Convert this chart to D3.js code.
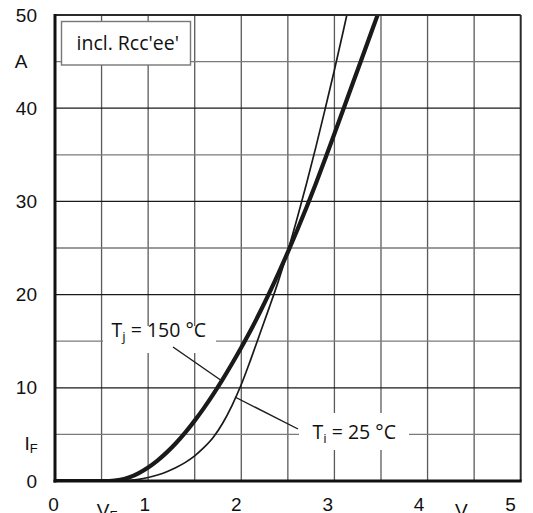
<!DOCTYPE html>
<html>
<head>
<meta charset="utf-8">
<script src="https://cdn.jsdelivr.net/npm/d3@7"></script>
<style>
  html, body { margin: 0; padding: 0; background: #fff; }
  svg { display: block; }
</style>
</head>
<body>
<svg id="chart" width="533" height="513"></svg>
<script>
// Forward characteristic I_F = f(V_F), incl. Rcc'ee'
const xTicks = [0, 1, 2, 3, 4, 5];
const yTicks = [0, 10, 20, 30, 40, 50];
const xGrid = [0.5, 1, 1.5, 2, 2.5, 3, 3.5, 4, 4.5];
const yGrid = [5, 10, 15, 20, 25, 30, 35, 40, 45];

// T_j = 150 °C (thick curve), V_F in V / I_F in A
const v150 = [0, 0.4, 0.58, 0.7, 0.8, 0.9, 1.0, 1.1, 1.2, 1.3, 1.4, 1.5, 1.6, 1.7, 1.8, 1.9, 2.0,
              2.1, 2.2, 2.3, 2.4, 2.5, 2.6, 2.7, 2.8, 2.9, 3.0, 3.1, 3.2, 3.3, 3.4, 3.5];
const i150 = [0, 0, 0, 0.12, 0.40, 0.85, 1.45, 2.19, 3.07, 4.08, 5.22, 6.48, 7.85, 9.33, 10.91, 12.58, 14.33,
              16.15, 18.1, 20.15, 22.3, 24.55, 26.9, 29.35, 31.9, 34.55, 37.25, 40.0, 42.75, 45.5, 48.25, 51.0];

// T_j = 25 °C (thin curve)
const v25 = [0, 0.45, 0.66, 0.7, 0.8, 0.9, 1.0, 1.1, 1.2, 1.3, 1.4, 1.5, 1.6, 1.7, 1.8, 1.9, 2.0,
             2.1, 2.2, 2.3, 2.4, 2.5, 2.6, 2.7, 2.8, 2.9, 3.0, 3.1, 3.2];
const i25 = [0, 0, 0, 0.01, 0.06, 0.18, 0.38, 0.65, 1.0, 1.45, 2.0, 2.7, 3.6, 4.7, 6.2, 8.1, 10.35,
             13.0, 15.8, 18.6, 21.5, 24.7, 28.2, 31.9, 35.8, 39.9, 44.1, 48.5, 53.0];

const svg = d3.select("#chart");
const plot = { left: 55, right: 520.7, top: 15, bottom: 481 };

const x = d3.scaleLinear().domain([0, 5]).range([plot.left, plot.right]);
const y = d3.scaleLinear().domain([0, 50]).range([plot.bottom, plot.top]);
// tick labels sit slightly left of their grid lines
const xl = d3.scaleLinear().domain([0, 5]).range([53, 510]);

const tickFont = "'Liberation Sans', Arial, sans-serif";
const noteFont = "'Open Sans', 'Noto Sans', sans-serif";

// grid
const grid = svg.append("g");
grid.selectAll("line.v").data(xGrid).join("line")
  .attr("x1", d => x(d)).attr("x2", d => x(d))
  .attr("y1", plot.top).attr("y2", plot.bottom)
  .attr("stroke", "#5a5a5a").attr("stroke-width", 1.3);
grid.selectAll("line.h").data(yGrid).join("line")
  .attr("x1", plot.left).attr("x2", plot.right)
  .attr("y1", d => y(d)).attr("y2", d => y(d))
  .attr("stroke", d => d % 10 === 0 ? "#1a1a1a" : "#7a7a7a")
  .attr("stroke-width", 1.3);

// white backgrounds behind the curve labels
const notes = svg.append("g");
notes.append("rect").attr("x", 103).attr("y", 326).attr("width", 113).attr("height", 27).attr("fill", "#fff");
notes.append("rect").attr("x", 299).attr("y", 413).attr("width", 110).attr("height", 37).attr("fill", "#fff");

// leader lines
notes.append("line").attr("x1", 173).attr("y1", 347).attr("x2", 222).attr("y2", 381)
  .attr("stroke", "#1a1a1a").attr("stroke-width", 1.4);
notes.append("line").attr("x1", 235).attr("y1", 397).attr("x2", 298).attr("y2", 429)
  .attr("stroke", "#1a1a1a").attr("stroke-width", 1.4);

// curves (clipped to the plot area)
svg.append("clipPath").attr("id", "plotClip").append("rect")
  .attr("x", plot.left).attr("y", plot.top).attr("width", plot.right - plot.left).attr("height", plot.bottom - plot.top);
const line = d3.line().x(d => x(d[0])).y(d => y(d[1])).curve(d3.curveMonotoneX);
const curves = svg.append("g").attr("clip-path", "url(#plotClip)");
curves.append("path").datum(v25.map((v, k) => [v, i25[k]]))
  .attr("d", line).attr("fill", "none").attr("stroke", "#1a1a1a").attr("stroke-width", 1.7);
curves.append("path").datum(v150.map((v, k) => [v, i150[k]]))
  .attr("d", line).attr("fill", "none").attr("stroke", "#1a1a1a").attr("stroke-width", 4.2)
  .attr("stroke-linejoin", "round");

// frame
const frame = svg.append("g");
frame.append("line").attr("x1", plot.left).attr("x2", plot.right).attr("y1", plot.top).attr("y2", plot.top)
  .attr("stroke", "#2a2a2a").attr("stroke-width", 2);
frame.append("line").attr("x1", plot.right).attr("x2", plot.right).attr("y1", plot.top).attr("y2", plot.bottom)
  .attr("stroke", "#2a2a2a").attr("stroke-width", 2);
frame.append("line").attr("x1", plot.left).attr("x2", plot.left).attr("y1", plot.top - 1).attr("y2", plot.bottom + 1.5)
  .attr("stroke", "#111").attr("stroke-width", 3);
frame.append("line").attr("x1", plot.left - 1.5).attr("x2", plot.right + 1).attr("y1", plot.bottom).attr("y2", plot.bottom)
  .attr("stroke", "#111").attr("stroke-width", 3);

// y axis labels
const yAxis = d3.axisLeft(y).tickValues(yTicks).tickSize(0).tickPadding(18).tickFormat(d3.format("d"));
const gy = svg.append("g").attr("transform", `translate(${plot.left},0)`).call(yAxis);
gy.select(".domain").remove();
gy.selectAll("text").attr("font-family", tickFont).attr("font-size", 19).attr("fill", "#111");

// x axis labels
const xAxis = d3.axisBottom(xl).tickValues(xTicks).tickSize(0).tickPadding(0).tickFormat(d3.format("d"));
const gx = svg.append("g").attr("transform", "translate(0,497)").call(xAxis);
gx.select(".domain").remove();
gx.selectAll("text").attr("dy", "0.71em").attr("font-family", tickFont).attr("font-size", 19).attr("fill", "#111");

// axis units
const units = svg.append("g").attr("font-family", tickFont).attr("fill", "#111");
units.append("text").attr("x", 21).attr("y", y(45)).attr("dy", "0.35em")
  .attr("text-anchor", "middle").attr("font-size", 19).text("A");
const iF = units.append("text").attr("x", 24.5).attr("y", y(5) + 16).attr("font-size", 19);
iF.append("tspan").text("I");
iF.append("tspan").attr("font-size", 13).attr("dy", 3).text("F");
const vF = units.append("text").attr("x", xl(0.5) - 2).attr("y", 517).attr("font-size", 19);
vF.append("tspan").text("V");
vF.append("tspan").attr("font-size", 13).attr("dy", 3).text("F");
units.append("text").attr("x", xl(4.5) - 3).attr("y", 517).attr("text-anchor", "middle")
  .attr("font-size", 19).text("V");

// curve labels
const lab1 = notes.append("text").attr("x", 111.5).attr("y", 336.5)
  .attr("font-family", noteFont).attr("font-size", 19.5).attr("fill", "#111");
lab1.append("tspan").text("T");
lab1.append("tspan").attr("font-size", 13.5).attr("dy", 4).text("j");
lab1.append("tspan").attr("dy", -4).text(" = 150 °C");

const lab2 = notes.append("text").attr("x", 312.5).attr("y", 438.5)
  .attr("font-family", noteFont).attr("font-size", 19.5).attr("fill", "#111");
lab2.append("tspan").text("T");
lab2.append("tspan").attr("font-size", 13.5).attr("dy", 4).text("i");
lab2.append("tspan").attr("dy", -4).text(" = 25 °C");

// condition box
const box = svg.append("g");
box.append("rect").attr("x", 61.5).attr("y", 21.5).attr("width", 129).attr("height", 43.5)
  .attr("fill", "#fff").attr("stroke", "#777").attr("stroke-width", 1.4);
box.append("text").attr("x", 76.5).attr("y", 50)
  .attr("font-family", noteFont).attr("font-size", 19.5).attr("fill", "#111")
  .text("incl. Rcc'ee'");
</script>
</body>
</html>
